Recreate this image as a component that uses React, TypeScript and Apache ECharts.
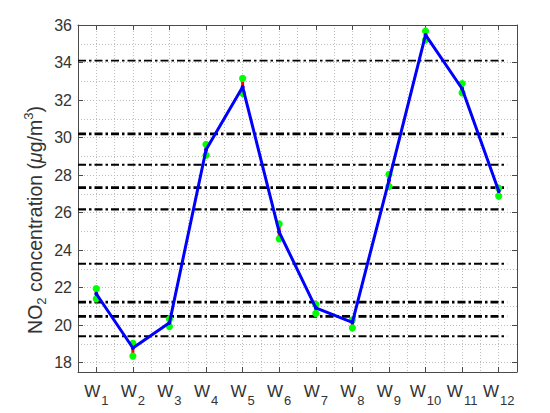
import React, { useEffect, useRef } from 'react';
import * as echarts from 'echarts';

// ---- data ----
const weeks = [1, 2, 3, 4, 5, 6, 7, 8, 9, 10, 11, 12];
const meanValues = [21.67, 18.78, 20.12, 29.35, 32.7, 24.96, 20.92, 20.15, 27.72, 35.47, 32.6, 27.15];
const lowValues = [21.4, 18.35, 19.92, 29.06, 32.35, 24.6, 20.63, 19.85, 27.4, 35.2, 32.38, 26.88];
const highValues = [21.94, 19.03, 20.33, 29.63, 33.15, 25.4, 21.1, 20.28, 28.04, 35.68, 32.88, 27.3];
const thresholdLevels = [34.1, 30.2, 28.55, 27.33, 26.17, 23.27, 21.22, 20.47, 19.4];
const thresholdStartX = 0.5;
const thresholdEndX = 12.23;
const xMin = 0.5;
const xMax = 12.5;
const yMin = 17.5;
const yMax = 36;

// ---- styles ----
const thresholdWidths = [1.8, 2.8, 2.0, 2.8, 2.4, 2.2, 2.8, 2.8, 2.0];
const FONT = "'Liberation Sans', Arial, Helvetica, sans-serif";
const AXIS_COLOR = '#4a4a4a';
const TEXT_COLOR = '#333333';
const GRID_COLOR = '#bdbdbd';

export default function App() {
  const ref = useRef<HTMLDivElement>(null);

  useEffect(() => {
    if (!ref.current) return;
    const chart = echarts.init(ref.current, null, { renderer: 'svg' });

    const tickAxisBase = {
      type: 'value',
      axisLine: { show: false },
      axisLabel: { show: false },
      splitLine: { show: false },
      axisTick: { show: true, inside: true, length: 5, lineStyle: { color: AXIS_COLOR, width: 1 } },
    };

    const thresholdSeries = thresholdLevels.map((lvl, i) => ({
      type: 'line',
      xAxisIndex: 0,
      yAxisIndex: 0,
      data: [
        [thresholdStartX, lvl],
        [thresholdEndX, lvl],
      ],
      symbol: 'none',
      silent: true,
      z: 2,
      lineStyle: { color: '#000000', width: thresholdWidths[i], type: [8, 3, 2.5, 3] },
    }));

    const option: any = {
      animation: false,
      grid: { left: 78, right: 33, top: 25, bottom: 41, containLabel: false },
      xAxis: [
        {
          type: 'value',
          min: xMin,
          max: xMax,
          splitNumber: 24,
          minInterval: 0.5,
          maxInterval: 0.5,
          position: 'bottom',
          axisLine: { show: true, lineStyle: { color: AXIS_COLOR, width: 1 } },
          axisTick: { show: false },
          splitLine: { show: true, lineStyle: { color: GRID_COLOR, width: 1, type: [1, 2] } },
          axisLabel: {
            margin: 11,
            color: TEXT_COLOR,
            formatter: (v: number) => (Number.isInteger(v) && v >= 1 && v <= 12 ? `{w|W}{s|${v}}` : ''),
            rich: {
              w: { fontSize: 17, fontFamily: FONT, color: TEXT_COLOR, lineHeight: 17 },
              s: { fontSize: 13, fontFamily: FONT, color: TEXT_COLOR, lineHeight: 13, padding: [18, 0, 0, 1] },
            },
          },
        },
        { ...tickAxisBase, min: xMin, max: xMax, splitNumber: 12, minInterval: 1, maxInterval: 1, position: 'bottom' },
        {
          ...tickAxisBase,
          min: xMin,
          max: xMax,
          splitNumber: 12,
          minInterval: 1,
          maxInterval: 1,
          position: 'top',
          axisLine: { show: true, lineStyle: { color: AXIS_COLOR, width: 1 } },
        },
      ],
      yAxis: [
        {
          type: 'value',
          min: yMin,
          max: yMax,
          splitNumber: 18,
          minInterval: 1,
          maxInterval: 1,
          position: 'left',
          axisLine: { show: true, lineStyle: { color: AXIS_COLOR, width: 1 } },
          axisTick: { show: false },
          splitLine: { show: true, lineStyle: { color: GRID_COLOR, width: 1, type: [1, 2] } },
          axisLabel: {
            margin: 6,
            color: TEXT_COLOR,
            fontSize: 16,
            fontFamily: FONT,
            formatter: (v: number) => (Number.isInteger(v) && v % 2 === 0 ? String(v) : ''),
          },
        },
        { ...tickAxisBase, min: yMin, max: yMax, splitNumber: 9, minInterval: 2, maxInterval: 2, position: 'left' },
        {
          ...tickAxisBase,
          min: yMin,
          max: yMax,
          splitNumber: 9,
          minInterval: 2,
          maxInterval: 2,
          position: 'right',
          axisLine: { show: true, lineStyle: { color: AXIS_COLOR, width: 1 } },
        },
      ],
      graphic: [
        {
          type: 'text',
          x: 35,
          y: 220,
          rotation: Math.PI / 2,
          style: {
            text: 'NO{sub|2} concentration ({it|\u03bc}g/m{sup|3})',
            fontSize: 19.5,
            fontFamily: FONT,
            fill: TEXT_COLOR,
            align: 'center',
            verticalAlign: 'middle',
            rich: {
              sub: { fontSize: 13, fontFamily: FONT, fill: TEXT_COLOR, padding: [13, 0, 0, 0] },
              sup: { fontSize: 13, fontFamily: FONT, fill: TEXT_COLOR, padding: [0, 0, 13, 0] },
              it: { fontSize: 19.5, fontFamily: FONT, fontStyle: 'italic', fill: TEXT_COLOR },
            },
          },
        },
      ],
      series: [
        ...thresholdSeries,
        {
          type: 'custom',
          xAxisIndex: 0,
          yAxisIndex: 0,
          z: 3,
          silent: true,
          data: weeks.map((w, i) => [w, lowValues[i], highValues[i]]),
          encode: { x: 0, y: [1, 2] },
          renderItem: (params: any, api: any) => {
            const x = api.value(0);
            const lo = api.coord([x, api.value(1)]);
            const hi = api.coord([x, api.value(2)]);
            return {
              type: 'group',
              children: [
                { type: 'line', shape: { x1: lo[0], y1: lo[1], x2: hi[0], y2: hi[1] }, style: { stroke: '#ff0000', lineWidth: 3 } },
                { type: 'circle', shape: { cx: lo[0], cy: lo[1], r: 3.6 }, style: { fill: '#00ff00' } },
                { type: 'circle', shape: { cx: hi[0], cy: hi[1], r: 3.6 }, style: { fill: '#00ff00' } },
              ],
            };
          },
        },
        {
          type: 'line',
          xAxisIndex: 0,
          yAxisIndex: 0,
          z: 4,
          data: weeks.map((w, i) => [w, meanValues[i]]),
          symbol: 'circle',
          symbolSize: 4,
          itemStyle: { color: '#0000ff' },
          lineStyle: { color: '#0000ff', width: 3 },
        },
      ],
    };

    chart.setOption(option);
    return () => chart.dispose();
  }, []);

  return (
    <div
      ref={ref}
      style={{ position: 'absolute', left: 0, top: 0, width: 550, height: 413, background: '#ffffff' }}
    />
  );
}
